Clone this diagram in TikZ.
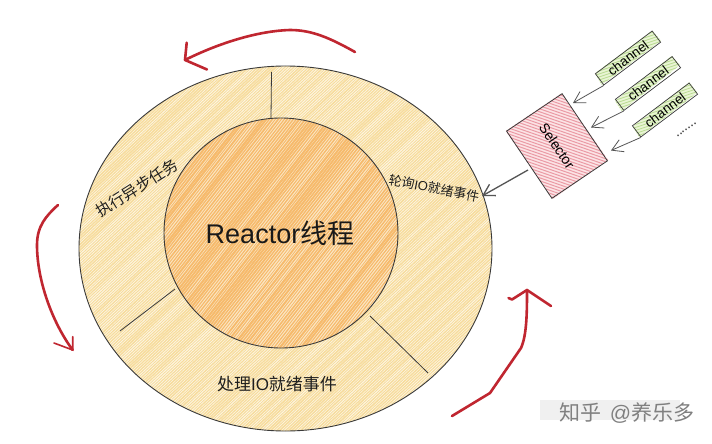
\documentclass[tikz,border=0pt]{standalone}
\usepackage{fontspec}
\setmainfont{Noto Sans CJK SC}
\newfontfamily\latinsans{Liberation Sans}
\usetikzlibrary{shapes.geometric,arrows.meta,calc}
\definecolor{ringbase}{HTML}{FDF6E4}
\definecolor{ringdark}{HTML}{F7DC9C}
\definecolor{corebase}{HTML}{FBE6C4}
\definecolor{coredark}{HTML}{F6BA6C}
\definecolor{selbase}{HTML}{FCE4E6}
\definecolor{seldark}{HTML}{EA9AA4}
\definecolor{chbase}{HTML}{E9F5D4}
\definecolor{chdark}{HTML}{BBDC94}
\definecolor{redpen}{HTML}{C02630}
\definecolor{inkline}{HTML}{3A3A3A}
\definecolor{arrowgray}{HTML}{555555}
\tikzset{
  x=1pt,y=-1pt,
  ringshape/.style={ellipse,draw=inkline,line width=0.9pt,inner sep=0pt,minimum width=413pt,minimum height=365pt},
  coreshape/.style={ellipse,draw=inkline,line width=0.9pt,inner sep=0pt,minimum width=234pt,minimum height=230pt},
  divider/.style={draw=inkline,line width=0.8pt},
  selbox/.style={rectangle,draw=inkline,line width=0.8pt,minimum width=81pt,minimum height=67pt,inner sep=0pt,rotate=-56,font=\latinsans\fontsize{14}{16}\selectfont},
  chbox/.style={rectangle,draw=inkline,line width=0.7pt,minimum width=71pt,minimum height=14pt,inner sep=0pt,rotate=37,font=\latinsans\fontsize{13.5}{14}\selectfont},
  feed/.style={draw=arrowgray,line width=0.8pt,-{Straight Barb[length=11pt,width=13pt]}},
  redarrow/.style={draw=redpen,line width=2.6pt,line cap=round,line join=round},
  ringlabel/.style={text=black!88},
}
\begin{document}
\begin{tikzpicture}
\pgfmathsetseed{7}
\useasboundingbox (0,0) rectangle (712,444);
\fill[white] (0,0) rectangle (712,444);
% outer ring hachure
\begin{scope}
  \clip (285.5,248.5) ellipse [x radius=206.5,y radius=182.5];
  \fill[ringbase] (0,0) rectangle (712,444);
  \foreach \k in {-400,-397,...,800} {
    \pgfmathsetmacro\wd{0.7+0.9*rnd}
    \draw[ringdark,line width=\wd pt] (\k,460) -- (\k+450,40);
  }
\end{scope}
% core hachure
\begin{scope}
  \clip (281,233) ellipse [x radius=117,y radius=115];
  \fill[corebase] (0,0) rectangle (712,444);
  \foreach \k in {-100,-97,...,500} {
    \pgfmathsetmacro\wd{0.7+1.5*rnd}
    \draw[coredark,line width=\wd pt] (\k,400) -- (\k+250,80);
  }
\end{scope}
% selector hachure
\begin{scope}
  \clip (561.7,93.3) -- (608,160) -- (552.7,199) -- (505.7,131) -- cycle;
  \fill[selbase] (0,0) rectangle (712,444);
  \foreach \k in {50,53,...,240} {
    \draw[seldark,line width=1pt] (500,\k) -- (615,\k+40);
  }
\end{scope}
% channel hachure
\begin{scope}
  \clip (595,73.3) -- (601.7,85) -- (661,40.7) -- (652.3,30.7) -- cycle;
  \fill[chbase] (590,25) rectangle (665,90);
  \foreach \k in {0,3,...,80} {\draw[chdark,line width=0.8pt] (590,\k+20) -- (665,\k-5);}
\end{scope}
\begin{scope}
  \clip (615,101) -- (621.7,111) -- (680,65) -- (671.7,56) -- cycle;
  \fill[chbase] (610,50) rectangle (685,115);
  \foreach \k in {0,3,...,80} {\draw[chdark,line width=0.8pt] (610,\k+45) -- (685,\k+20);}
\end{scope}
\begin{scope}
  \clip (632.7,126.7) -- (639.3,137.3) -- (697.3,92.7) -- (689.3,82.3) -- cycle;
  \fill[chbase] (628,78) rectangle (702,140);
  \foreach \k in {0,3,...,80} {\draw[chdark,line width=0.8pt] (628,\k+70) -- (702,\k+45);}
\end{scope}
% ring and core outlines
\node[ringshape] (outer) at (285.5,248.5) {};
\node[coreshape] (core) at (281,233) {};
\node[font=\fontsize{27}{30}\selectfont,text=black!90] (title) at (280,233) {{\latinsans Reactor}线程};
% dividers
\coordinate (d1a) at (271.5,72);
\coordinate (d1b) at (271,118);
\coordinate (d2a) at (370,316);
\coordinate (d2b) at (428,373);
\coordinate (d3a) at (175,289);
\coordinate (d3b) at (120,331);
\draw[divider] (d1a) -- (d1b);
\draw[divider] (d2a) -- (d2b);
\draw[divider] (d3a) -- (d3b);
% labels
\node[ringlabel,rotate=32,font=\fontsize{15.5}{17}\selectfont] (asynctask) at (137,188) {执行异步任务};
\node[ringlabel,font=\fontsize{17}{19}\selectfont] (handleio) at (277,384) {处理{\latinsans IO}就绪事件};
\node[ringlabel,rotate=-11,font=\fontsize{13}{15}\selectfont] (pollio) at (434,188) {轮询{\latinsans IO}就绪事件};
% selector and channels
\node[selbox] (sel) at (557,146) {Selector};
\node[chbox] (ch1) at (628,58) {channel};
\node[chbox] (ch2) at (648,83.5) {channel};
\node[chbox] (ch3) at (665,110) {channel};
\node[font=\fontsize{13}{15}\selectfont,rotate=35,text=black!75] (dots) at (687,130) {.......};
% connectors
\coordinate (t1) at (573,103);
\coordinate (t2) at (591,127.5);
\coordinate (t3) at (611,150.5);
\coordinate (t4) at (482,196);
\coordinate (s4) at (528,170);
\draw[feed] (ch1.south west) -- (t1);
\draw[feed] (ch2.south west) -- (t2);
\draw[feed] (ch3.south west) -- (t3);
\draw[feed,line width=1.3pt] (s4) -- (t4);
% red arrows
\draw[redarrow] (355,52) .. controls (330,38) and (312,30) .. (290,30) .. controls (255,31) and (215,45) .. (185,60);
\draw[redarrow] (186.7,42.7) -- (185,60) -- (207,69.5);
\draw[redarrow] (58,205) .. controls (46,216) and (37,226) .. (37,245) .. controls (37,280) and (52,322) .. (72.7,350);
\draw[redarrow,line width=1.6pt] (72.7,336.7) -- (72.7,350) -- (54,343);
\draw[redarrow] (452,416) -- (490,393) -- (521,348) .. controls (527,335) and (527,310) .. (527,290);
\draw[redarrow] (508.5,298) -- (512,299.5) -- (527,290) -- (551,306);
% watermark
\fill[black!6] (540,400) rectangle (680,420);
\node[font=\fontsize{21}{23}\selectfont,text=black!50] (mark) at (627,413.5) {知乎\hspace{8pt}{\latinsans @}养乐多};
\end{tikzpicture}
\end{document}
